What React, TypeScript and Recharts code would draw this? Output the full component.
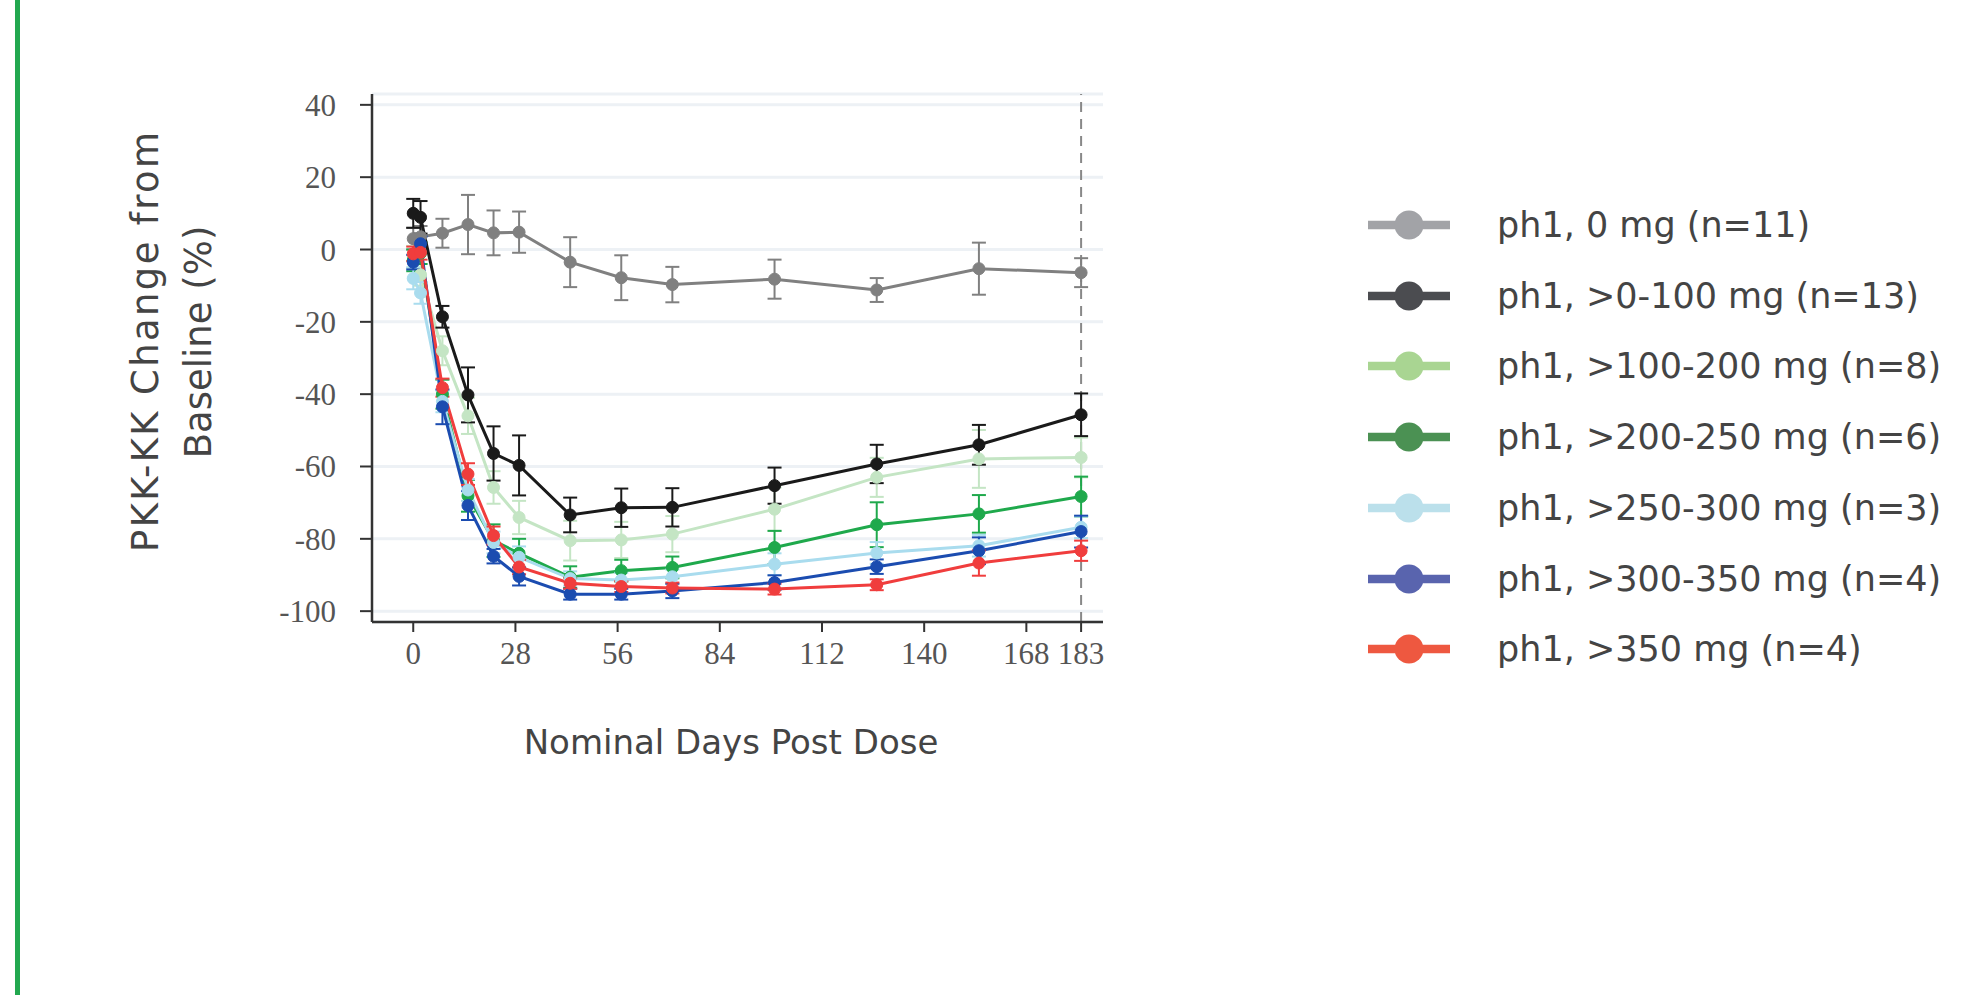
import { LineChart, Line, XAxis, YAxis, CartesianGrid, ErrorBar, ReferenceLine, Legend } from 'recharts'

// nominal visit days
const days = [0, 2, 8, 15, 22, 29, 43, 57, 71, 99, 127, 155, 183]

const seriesNames = [
  'ph1, 0 mg (n=11)',
  'ph1, >0-100 mg (n=13)',
  'ph1, >100-200 mg (n=8)',
  'ph1, >200-250 mg (n=6)',
  'ph1, >250-300 mg (n=3)',
  'ph1, >300-350 mg (n=4)',
  'ph1, >350 mg (n=4)',
]

// mean % change and error per group
const dose0 = [3, 3.5, 4.5, 6.9, 4.6, 4.8, -3.5, -7.8, -9.7, -8.2, -11.2, -5.3, -6.4]
const dose0Err = [3, 3, 4, 8.2, 6.2, 5.7, 6.9, 6.2, 4.9, 5.4, 3.3, 7.2, 4]
const dose100 = [10, 8.9, -18.6, -40.2, -56.4, -59.7, -73.4, -71.4, -71.3, -65.3, -59.3, -54, -45.7]
const dose100Err = [4, 4.5, 3, 7.6, 7.5, 8.3, 4.8, 5.3, 5.3, 5, 5.3, 5.5, 5.9]
const dose200 = [-2, -7, -28, -46, -65.8, -74.1, -80.5, -80.3, -78.7, -71.8, -63, -57.9, -57.5]
const dose200Err = [3, 3, 4, 5, 4.5, 4.6, 5.5, 5, 5, 6, 5.4, 8, 5.5]
const dose250 = [-3, -1, -40, -68.1, -80.5, -84, -90.6, -88.8, -87.9, -82.4, -76.1, -73.1, -68.3]
const dose250Err = [3, 3, 4, 4.4, 4.5, 4, 3, 3, 3, 4.6, 6.2, 5.2, 5.5]
const dose300 = [-8, -12, -42, -66.5, -81, -85.1, -91, -91.4, -90.5, -87, -83.9, -81.9, -76.8]
const dose300Err = [3, 3, 3, 3, 3, 3, 2, 2, 2, 3, 3, 3, 3]
const dose350 = [-3.5, 1.6, -43.5, -70.8, -84.8, -90.4, -95.3, -95.3, -94.4, -92.1, -87.7, -83.3, -78]
const dose350Err = [2, 2, 4.8, 4, 2, 2.5, 1.5, 1.5, 2, 2, 2, 3.7, 4.4]
const doseMax = [-1.2, -0.8, -38.2, -62.1, -79.1, -87.8, -92.3, -93.2, -93.6, -93.9, -92.7, -86.7, -83.3]
const doseMaxErr = [2, 2, 2.5, 3, 2.5, 2, 1.5, 1.5, 1.5, 1.5, 1.5, 3.5, 2.8]

const xTicks = [0, 28, 56, 84, 112, 140, 168, 183]
const yTicks = [-100, -80, -60, -40, -20, 0, 20, 40]

const lineColors = ['#808080', '#1a1a1a', '#c4e5c4', '#1fa94c', '#a9dcee', '#1b4cb0', '#f03d3d']
const legendColors = ['#a2a3a7', '#4b4c50', '#a9d592', '#4b9153', '#bbe0eb', '#5964ae', '#ee5840']

const values = [dose0, dose100, dose200, dose250, dose300, dose350, doseMax]
const errors = [dose0Err, dose100Err, dose200Err, dose250Err, dose300Err, dose350Err, doseMaxErr]

const data = days.map((day, i) => {
  const row: Record<string, number> = { day }
  values.forEach((v, s) => {
    row[`s${s}`] = v[i]
    row[`e${s}`] = errors[s][i]
  })
  return row
})

// black group drawn last so it sits on top
const drawOrder = [0, 2, 3, 4, 5, 6, 1]

const sansFont = '"DejaVu Sans", sans-serif'
const tickStyle = { fontFamily: '"Liberation Serif", serif', fontSize: 31, fill: '#555' }

function YTitle() {
  return (
    <text transform="translate(0,342) rotate(-90)" textAnchor="middle" fontFamily={sansFont} fontSize={37} fill="#444">
      <tspan x={0} y={158} textLength={420} lengthAdjust="spacing">PKK-KK Change from</tspan>
      <tspan x={0} y={211}>Baseline (%)</tspan>
    </text>
  )
}

function XTitle() {
  return (
    <text x={731} y={742} textAnchor="middle" dominantBaseline="central" fontFamily={sansFont} fontSize={34} fill="#444">
      Nominal Days Post Dose
    </text>
  )
}

function renderLegend() {
  return (
    <div style={{ display: 'flex', flexDirection: 'column' }}>
      {seriesNames.map((name, i) => (
        <div key={name} style={{ display: 'flex', alignItems: 'center', height: 70.75 }}>
          <svg width={82} height={30}>
            <line x1={0} x2={82} y1={15} y2={15} stroke={legendColors[i]} strokeWidth={8.5} />
            <circle cx={41} cy={15} r={14.5} fill={legendColors[i]} />
          </svg>
          <span style={{ marginLeft: 47, fontFamily: sansFont, fontSize: 35, color: '#444', whiteSpace: 'nowrap' }}>{name}</span>
        </div>
      ))}
    </div>
  )
}

export default function App() {
  return (
    <div style={{ position: 'absolute', left: 0, top: 0, width: 1981, height: 995, background: '#fff' }}>
      <div style={{ position: 'absolute', left: 15, top: 0, width: 5, height: 995, background: '#22a84f' }} />
      <LineChart width={1981} height={995} data={data} margin={{ top: 94, right: 878, bottom: 223, left: 272 }}>
        <CartesianGrid vertical={false} stroke="#edf1f5" strokeWidth={3} />
        <XAxis
          dataKey="day"
          type="number"
          domain={[-11.3, 189]}
          allowDataOverflow
          ticks={xTicks}
          interval={0}
          height={150}
          tick={tickStyle}
          tickSize={10}
          tickMargin={10}
          axisLine={{ stroke: '#333', strokeWidth: 2.5 }}
          tickLine={{ stroke: '#333', strokeWidth: 2 }}
          label={<XTitle />}
        />
        <YAxis
          type="number"
          domain={[-103, 43]}
          allowDataOverflow
          ticks={yTicks}
          interval={0}
          width={100}
          tick={tickStyle}
          tickSize={12}
          tickMargin={24}
          axisLine={{ stroke: '#333', strokeWidth: 2.5 }}
          tickLine={{ stroke: '#333', strokeWidth: 2 }}
          label={<YTitle />}
        />
        <ReferenceLine x={183} stroke="#888" strokeWidth={2} strokeDasharray="10 7" />
        {drawOrder.map((s) => (
          <Line
            key={s}
            dataKey={`s${s}`}
            name={seriesNames[s]}
            stroke={lineColors[s]}
            strokeWidth={3}
            dot={{ r: 6, fill: lineColors[s], stroke: lineColors[s], strokeWidth: 1 }}
            activeDot={false}
            isAnimationActive={false}
          >
            <ErrorBar dataKey={`e${s}`} direction="y" width={7} stroke={lineColors[s]} strokeWidth={2} />
          </Line>
        ))}
        <Legend
          layout="vertical"
          align="center"
          verticalAlign="middle"
          content={renderLegend}
          wrapperStyle={{ position: 'absolute', left: 1368, top: 189.5, width: 600 }}
        />
      </LineChart>
    </div>
  )
}
